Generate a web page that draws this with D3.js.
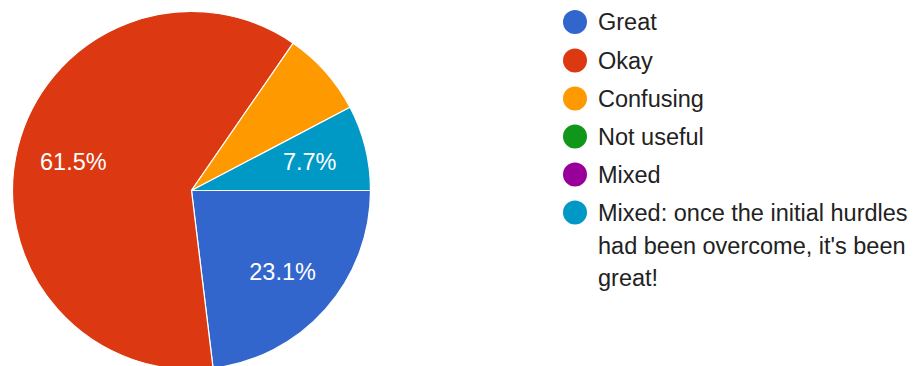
<!DOCTYPE html>
<html>
<head>
<meta charset="utf-8">
<script src="https://cdn.jsdelivr.net/npm/d3@7/dist/d3.min.js"></script>
<style>
  html, body { margin: 0; padding: 0; background: #fff; }
  svg { display: block; font-family: "Liberation Sans", Arial, sans-serif; }
</style>
</head>
<body>
<svg id="chart" width="918" height="366"></svg>
<script>
// Survey responses
const categories = ["Great", "Okay", "Confusing", "Not useful", "Mixed",
  "Mixed: once the initial hurdles had been overcome, it's been great!"];
const counts = [3, 8, 1, 0, 0, 1];
const colors = ["#3366cc", "#dc3912", "#ff9900", "#109618", "#990099", "#0099c6"];
// Which slices carry an in-slice percentage label
const showLabel = [true, true, false, false, false, true];
// Legend text broken into lines
const legendLines = [
  ["Great"], ["Okay"], ["Confusing"], ["Not useful"], ["Mixed"],
  ["Mixed: once the initial hurdles", "had been overcome, it's been", "great!"]
];

const svg = d3.select("#chart");
const cx = 191.5, cy = 190.5, r = 179;
const total = d3.sum(counts);
const data = categories.map((c, i) => ({ name: c, value: counts[i], color: colors[i], label: showLabel[i] }));

const pie = d3.pie().value(d => d.value).sort(null)
  .startAngle(Math.PI / 2).endAngle(Math.PI / 2 + 2 * Math.PI);
const arcs = pie(data).filter(a => a.data.value > 0);
const arc = d3.arc().innerRadius(0).outerRadius(r);
const labelArc = d3.arc().innerRadius(r * 0.68).outerRadius(r * 0.68);

const g = svg.append("g").attr("transform", `translate(${cx},${cy})`);
g.selectAll("path").data(arcs).join("path")
  .attr("d", arc)
  .attr("fill", d => d.data.color)
  .attr("stroke", "#fff")
  .attr("stroke-width", 1.2);

const fmt = d3.format(".1%");
g.selectAll("text").data(arcs.filter(a => a.data.label)).join("text")
  .attr("transform", d => `translate(${labelArc.centroid(d)})`)
  .attr("text-anchor", "middle")
  .attr("dy", "0.36em")
  .attr("fill", "#fff")
  .attr("font-size", 23.5)
  .text(d => fmt(d.data.value / total));

// Legend
const legend = svg.append("g");
const rowY = [22, 60.5, 98.5, 136.5, 174.5, 212.5];
const lineH = 32.7;
data.forEach((d, i) => {
  const row = legend.append("g").attr("transform", `translate(0,${rowY[i]})`);
  row.append("circle").attr("cx", 575).attr("cy", 0).attr("r", 12).attr("fill", d.color);
  const t = row.append("text").attr("font-size", 23.5).attr("fill", "#222");
  legendLines[i].forEach((ln, j) => {
    t.append("tspan").attr("x", 598).attr("y", j * lineH).attr("dy", "0.36em").text(ln);
  });
});
</script>
</body>
</html>
